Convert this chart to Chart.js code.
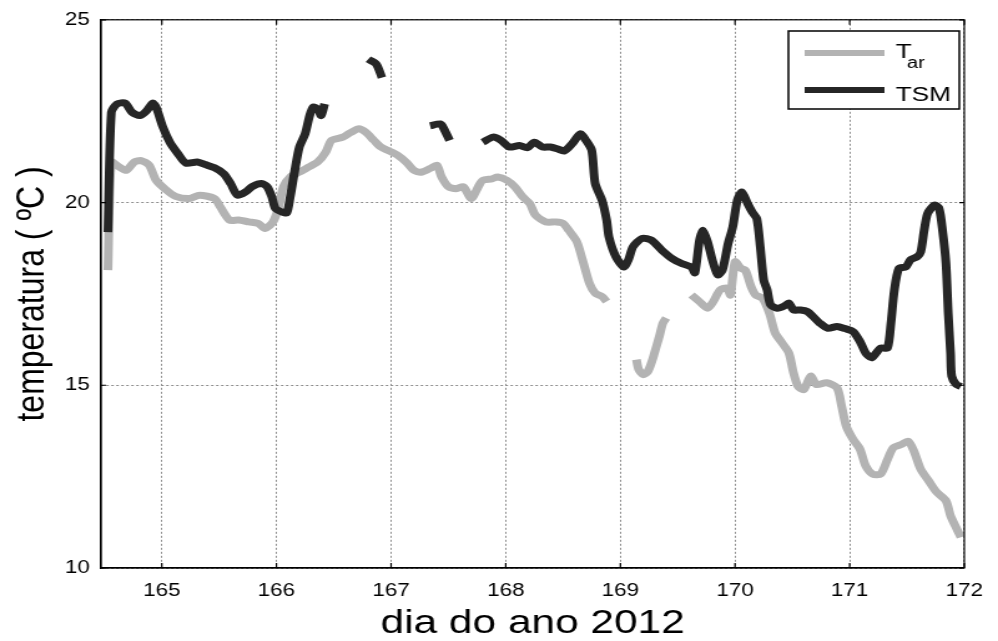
<!DOCTYPE html>
<html>
<head>
<meta charset="utf-8">
<script src="https://cdn.jsdelivr.net/npm/chart.js@4"></script>
<style>
    html, body { margin: 0; padding: 0; background: #fff; overflow: hidden; }
    /* a figura original esta esticada na horizontal */
    #moldura { width: 800px; height: 641px; transform: scaleX(1.2475); transform-origin: 0 0; }
</style>
</head>
<body>
<div id="moldura"><canvas id="grafico" width="800" height="641"></canvas></div>
<script>
// Dados (null = falha na serie)
const tarDias = [164.53, 164.56, 164.62, 164.69, 164.76, 164.82, 164.89, 164.95, 165.04, 165.12,
    165.24, 165.33, 165.46, 165.51, 165.59, 165.67, 165.76, 165.84, 165.90, 165.97,
    166.02, 166.06, 166.12, 166.20, 166.28, 166.36, 166.43, 166.48, 166.58, 166.65,
    166.72, 166.78, 166.85, 166.91, 166.97, 167.06, 167.13, 167.20, 167.26, 167.34,
    167.40, 167.44, 167.50, 167.57, 167.63, 167.70, 167.76, 167.80, 167.88, 167.93,
    168.01, 168.08, 168.15, 168.21, 168.26, 168.35, 168.44, 168.50, 168.55, 168.62,
    168.67, 168.73, 168.78, 168.84, 168.88, 169.00,
    169.14, 169.16, 169.20, 169.24, 169.28, 169.31, 169.34, 169.37, 169.40, 169.50,
    169.62, 169.69, 169.76, 169.81, 169.87, 169.93, 169.96, 170.00, 170.05, 170.09,
    170.14, 170.18, 170.24, 170.30, 170.35, 170.41, 170.47, 170.51, 170.55, 170.60,
    170.66, 170.71, 170.80, 170.89, 170.93, 170.97, 171.03, 171.09, 171.14, 171.20,
    171.27, 171.33, 171.38, 171.45, 171.51, 171.56, 171.62, 171.69, 171.76, 171.84,
    171.88, 171.92, 171.97];
const tarTemp = [18.15, 21.11, 20.99, 20.88, 21.11, 21.15, 21.02, 20.61, 20.34, 20.17,
    20.11, 20.20, 20.11, 19.88, 19.52, 19.52, 19.47, 19.43, 19.29, 19.47,
    19.88, 20.43, 20.70, 20.83, 20.97, 21.11, 21.38, 21.70, 21.79, 21.92,
    22.02, 21.92, 21.70, 21.52, 21.43, 21.29, 21.11, 20.88, 20.83, 20.93,
    21.02, 20.70, 20.43, 20.38, 20.43, 20.11, 20.43, 20.61, 20.65, 20.70,
    20.61, 20.43, 20.15, 19.97, 19.65, 19.47, 19.47, 19.43, 19.24, 18.93,
    18.43, 17.79, 17.52, 17.43, 17.29, null,
    15.70, 15.43, 15.29, 15.38, 15.70, 16.02, 16.34, 16.70, 16.84, null,
    17.47, 17.29, 17.11, 17.29, 17.61, 17.66, 17.47, 18.38, 18.20, 18.15,
    17.70, 17.47, 17.38, 16.97, 16.43, 16.16, 15.88, 15.34, 14.97, 14.88,
    15.25, 15.02, 15.07, 14.93, 14.43, 13.88, 13.52, 13.25, 12.79, 12.57,
    12.57, 12.97, 13.29, 13.38, 13.47, 13.20, 12.70, 12.38, 12.07, 11.84,
    11.43, 11.16, 10.84];

const tsmDias = [164.53, 164.56, 164.61, 164.68, 164.74, 164.81, 164.87, 164.92, 164.95, 165.01,
    165.07, 165.14, 165.21, 165.31, 165.38, 165.46, 165.54, 165.60, 165.66, 165.73,
    165.79, 165.87, 165.92, 165.96, 165.99, 166.05, 166.09, 166.12, 166.16, 166.20,
    166.25, 166.29, 166.32, 166.36, 166.39, 166.42, 166.60,
    166.80, 166.87, 166.92, 167.10,
    167.34, 167.43, 167.46, 167.51, 167.65,
    167.80, 167.89, 167.96, 168.03, 168.12, 168.19, 168.25, 168.32, 168.39, 168.45,
    168.51, 168.58, 168.65, 168.70, 168.75, 168.78, 168.84, 168.88, 168.90, 168.96,
    169.03, 169.07, 169.11, 169.19, 169.27, 169.36, 169.45, 169.53, 169.62, 169.65,
    169.69, 169.72, 169.76, 169.81, 169.85, 169.89, 169.94, 169.98, 170.02, 170.06,
    170.11, 170.15, 170.19, 170.22, 170.25, 170.28, 170.31, 170.37, 170.43, 170.47,
    170.51, 170.57, 170.63, 170.68, 170.74, 170.81, 170.89, 170.96, 171.03, 171.09,
    171.14, 171.19, 171.23, 171.27, 171.33, 171.36, 171.39, 171.43, 171.49, 171.53,
    171.59, 171.62, 171.65, 171.68, 171.74, 171.78, 171.81, 171.84, 171.86, 171.88,
    171.89, 171.93, 171.97];
const tsmTemp = [19.19, 22.47, 22.70, 22.72, 22.47, 22.38, 22.52, 22.72, 22.61, 22.06,
    21.65, 21.34, 21.08, 21.11, 21.04, 20.95, 20.79, 20.52, 20.20, 20.29,
    20.44, 20.52, 20.43, 20.15, 19.84, 19.74, 19.72, 20.15, 20.88, 21.52,
    21.88, 22.38, 22.61, 22.56, 22.38, 22.70, null,
    23.92, 23.79, 23.42, null,
    22.10, 22.15, 22.02, 21.70, null,
    21.65, 21.79, 21.70, 21.52, 21.56, 21.50, 21.65, 21.52, 21.52, 21.47,
    21.41, 21.61, 21.88, 21.70, 21.43, 20.52, 20.06, 19.52, 19.06, 18.52,
    18.24, 18.43, 18.79, 19.02, 18.97, 18.70, 18.47, 18.34, 18.23, 18.08,
    18.97, 19.24, 18.93, 18.34, 18.02, 18.15, 18.88, 19.33, 20.06, 20.29,
    19.97, 19.74, 19.56, 18.79, 17.88, 17.61, 17.20, 17.11, 17.17, 17.25,
    17.06, 17.06, 17.02, 16.88, 16.70, 16.56, 16.61, 16.55, 16.47, 16.20,
    15.88, 15.75, 15.88, 16.02, 16.02, 16.70, 17.61, 18.20, 18.24, 18.43,
    18.52, 18.65, 19.24, 19.70, 19.93, 19.84, 19.24, 18.34, 16.97, 15.88,
    15.25, 15.02, 14.97];

const diasTicks = [165, 166, 167, 168, 169, 170, 171, 172];
const tempTicks = [10, 15, 20, 25];

const fonte = 'Liberation Sans, Arial, sans-serif';
const corTar = '#b3b3b3';
const corTsm = '#262626';

function pares(xs, ys) {
    return xs.map((x, i) => ({ x: x, y: ys[i] }));
}

// moldura do eixo, ticks para dentro e legenda estilo matlab
const molduraPlugin = {
    id: 'moldura',
    afterDraw(chart) {
        const ctx = chart.ctx;
        const a = chart.chartArea;
        const sx = chart.scales.x, sy = chart.scales.y;
        ctx.save();
        ctx.strokeStyle = '#000';
        ctx.lineWidth = 1.2;
        ctx.strokeRect(a.left, a.top, a.right - a.left, a.bottom - a.top);
        ctx.beginPath();
        diasTicks.forEach(d => {
            const px = sx.getPixelForValue(d);
            ctx.moveTo(px, a.bottom); ctx.lineTo(px, a.bottom - 5);
            ctx.moveTo(px, a.top); ctx.lineTo(px, a.top + 5);
        });
        tempTicks.forEach(t => {
            const py = sy.getPixelForValue(t);
            ctx.moveTo(a.left, py); ctx.lineTo(a.left + 4, py);
            ctx.moveTo(a.right, py); ctx.lineTo(a.right - 4, py);
        });
        ctx.stroke();

        // legenda
        const bx = 632, by = 31, bw = 137, bh = 78;
        ctx.fillStyle = '#fff';
        ctx.fillRect(bx, by, bw, bh);
        ctx.lineWidth = 1.5;
        ctx.strokeRect(bx, by, bw, bh);
        ctx.lineWidth = 6;
        ctx.strokeStyle = corTar;
        ctx.beginPath(); ctx.moveTo(645, 53); ctx.lineTo(709, 53); ctx.stroke();
        ctx.strokeStyle = corTsm;
        ctx.beginPath(); ctx.moveTo(645, 90); ctx.lineTo(709, 90); ctx.stroke();
        ctx.fillStyle = '#000';
        ctx.textBaseline = 'alphabetic';
        ctx.textAlign = 'left';
        ctx.font = '21px ' + fonte;
        ctx.fillText('T', 718, 58);
        ctx.fillText('TSM', 718, 101);
        ctx.font = '16px ' + fonte;
        ctx.fillText('ar', 727, 68);
        ctx.restore();
    }
};

new Chart(document.getElementById('grafico'), {
    type: 'line',
    data: {
        datasets: [
            {
                label: 'Tar',
                data: pares(tarDias, tarTemp),
                borderColor: corTar,
                borderWidth: 7,
                pointRadius: 0,
                tension: 0.25,
                spanGaps: false,
                borderJoinStyle: 'round',
                order: 2
            },
            {
                label: 'TSM',
                data: pares(tsmDias, tsmTemp),
                borderColor: corTsm,
                borderWidth: 7,
                pointRadius: 0,
                tension: 0.25,
                spanGaps: false,
                borderJoinStyle: 'round',
                order: 1
            }
        ]
    },
    options: {
        responsive: false,
        animation: false,
        layout: { padding: { top: 19, right: 22, left: 0, bottom: 0 } },
        plugins: { legend: { display: false }, tooltip: { enabled: false } },
        scales: {
            x: {
                type: 'linear',
                min: 164.47,
                max: 172,
                afterBuildTicks: s => { s.ticks = diasTicks.map(v => ({ value: v })); },
                afterFit: s => { s.height = 73; },
                ticks: { color: '#000', font: { family: fonte, size: 18 }, padding: 12, maxRotation: 0 },
                grid: { color: '#8c8c8c', lineWidth: 1, drawTicks: false },
                border: { display: true, color: '#000', width: 1.2, dash: [2, 2] },
                title: {
                    display: true,
                    text: 'dia do ano 2012',
                    color: '#000',
                    font: { family: fonte, size: 34, lineHeight: 1 },
                    padding: { top: 0, bottom: 0 }
                }
            },
            y: {
                type: 'linear',
                min: 10,
                max: 25,
                afterBuildTicks: s => { s.ticks = tempTicks.map(v => ({ value: v })); },
                afterFit: s => { s.width = 81; },
                ticks: { color: '#000', font: { family: fonte, size: 18 }, padding: 9 },
                grid: { color: '#8c8c8c', lineWidth: 1, drawTicks: false },
                border: { display: true, color: '#000', width: 1.2, dash: [2, 2] },
                title: {
                    display: true,
                    text: 'temperatura ( ºC )',
                    color: '#000',
                    font: { family: fonte, size: 32, lineHeight: 1.2 },
                    padding: { top: 7, bottom: 0 }
                }
            }
        }
    },
    plugins: [molduraPlugin]
});
</script>
</body>
</html>
